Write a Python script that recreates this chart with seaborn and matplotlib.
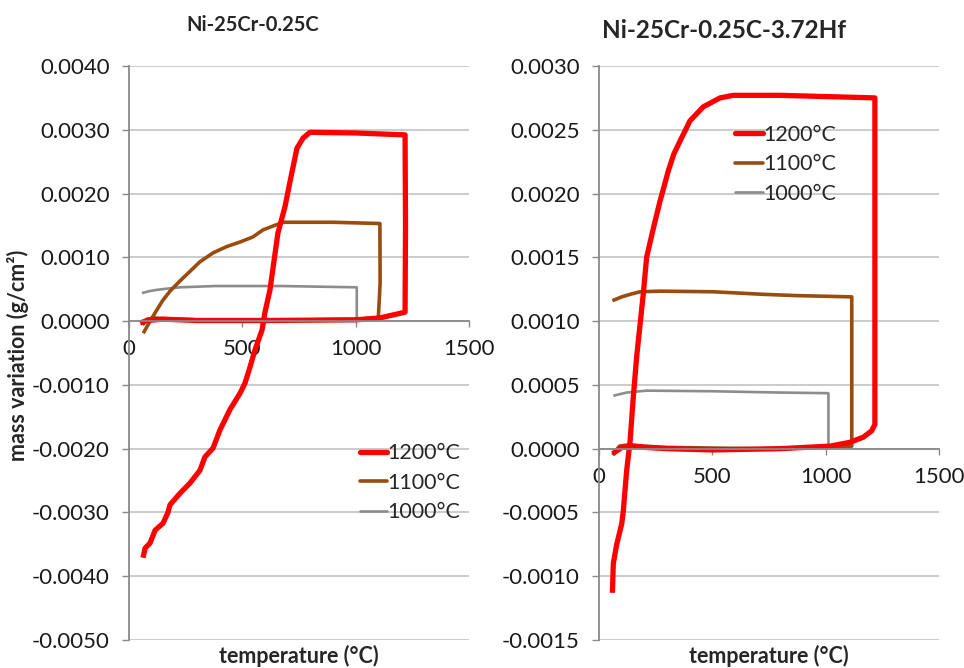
import numpy as np
import pandas as pd
import seaborn as sns
import matplotlib.pyplot as plt
from matplotlib.ticker import FormatStrFormatter
from matplotlib.lines import Line2D

# --- data (temperature in °C, mass variation in g/cm2) ---
# Ni-25Cr-0.25C
t_l1200 = [62, 71, 93, 115, 150, 172, 181, 225, 269, 313, 335, 371, 401, 445, 490, 512, 534, 556, 587,
           600, 622, 657, 688, 710, 741, 768, 798, 1000, 1218, 1220, 1218, 1107, 1000, 600, 300, 150, 80, 49]
m_l1200 = [-3.71, -3.56, -3.48, -3.28, -3.17, -3.00, -2.88, -2.70, -2.54, -2.34, -2.13, -1.99, -1.71, -1.39,
           -1.13, -0.97, -0.72, -0.45, -0.14, 0.14, 0.49, 1.38, 1.79, 2.18, 2.71, 2.87, 2.96, 2.95, 2.92,
           1.50, 0.14, 0.05, 0.02, 0.01, 0.01, 0.03, 0.01, -0.03]
t_l1100 = [63, 90, 122, 150, 181, 225, 269, 313, 371, 432, 490, 547, 591, 635, 679, 900, 1107, 1108, 1100,
           1000, 600, 300, 150, 110, 80, 60]
m_l1100 = [-0.19, -0.02, 0.17, 0.33, 0.47, 0.63, 0.78, 0.93, 1.07, 1.17, 1.24, 1.32, 1.43, 1.49, 1.55, 1.55,
           1.53, 0.60, 0.05, 0.03, 0.01, 0.02, 0.04, 0.05, 0.03, -0.06]
t_l1000 = [57, 90, 123, 170, 225, 381, 675, 1005, 1005, 800, 400, 200, 120, 80, 57]
m_l1000 = [0.44, 0.47, 0.49, 0.51, 0.53, 0.55, 0.55, 0.53, 0.02, 0.01, 0.01, 0.02, 0.04, 0.03, -0.03]

# Ni-25Cr-0.25C-3.72Hf
t_r1200 = [59, 63, 78, 100, 107, 122, 137, 151, 166, 195, 210, 240, 269, 306, 330, 357, 401, 460, 534, 592,
           798, 1217, 1217, 1203, 1166, 1107, 1019, 800, 500, 300, 200, 150, 100, 60]
m_r1200 = [-1.13, -0.90, -0.75, -0.59, -0.49, -0.17, 0.06, 0.40, 0.72, 1.21, 1.50, 1.73, 1.94, 2.18, 2.31,
           2.41, 2.57, 2.68, 2.75, 2.77, 2.77, 2.75, 0.19, 0.14, 0.09, 0.05, 0.02, 0.0, -0.01, 0.0,
           0.01, 0.02, 0.01, -0.04]
t_r1100 = [59, 100, 137, 181, 269, 504, 725, 872, 1115, 1115, 1000, 700, 300, 200, 130, 90, 60]
m_r1100 = [1.16, 1.19, 1.21, 1.23, 1.235, 1.23, 1.21, 1.20, 1.19, 0.02, 0.01, 0.0, 0.01, 0.02, 0.03, 0.02,
           -0.05]
t_r1000 = [63, 122, 210, 504, 798, 1012, 1012, 800, 400, 200, 150, 110, 80, 60]
m_r1000 = [0.415, 0.44, 0.455, 0.45, 0.44, 0.435, 0.0, 0.0, 0.0, 0.01, 0.02, 0.02, 0.0, -0.04]

labels = ['1200°C', '1100°C', '1000°C']
colors = ['#ff0000', '#9a4b0e', '#8c8c8c']
widths = [3.8, 2.6, 1.9]

sns.set_style('white')
plt.rcParams['font.family'] = ['Lato', 'DejaVu Sans']
plt.rcParams['axes.unicode_minus'] = False

fig = plt.figure(figsize=(9.64, 6.68), dpi=100)
ax1 = fig.add_axes([0.1338, 0.0419, 0.3527, 0.8593])
ax2 = fig.add_axes([0.6214, 0.0419, 0.3527, 0.8593])

panels = [
    (ax1, [(t_l1000, m_l1000), (t_l1100, m_l1100), (t_l1200, m_l1200)], (-0.005, 0.004), 0.001,
     (0.678, 0.343)),
    (ax2, [(t_r1000, m_r1000), (t_r1100, m_r1100), (t_r1200, m_r1200)], (-0.0015, 0.003), 0.0005,
     (0.40, 0.898)),
]

for ax, series, ylim, step, legpos in panels:
    for (t, m), c, w in zip(series, colors[::-1], widths[::-1]):
        df = pd.DataFrame({'T': t, 'm': np.array(m) / 1000})
        sns.lineplot(data=df, x='T', y='m', sort=False, estimator=None, color=c, linewidth=w,
                     ax=ax, solid_capstyle='butt')
    ax.set_xlim(0, 1500)
    ax.set_ylim(*ylim)
    ax.set_xticks([0, 500, 1000, 1500])
    ax.set_yticks(np.arange(ylim[0], ylim[1] + step / 2, step))
    ax.yaxis.set_major_formatter(FormatStrFormatter('%.4f'))
    ax.grid(axis='y', color='#bdbdbd', linewidth=1.1)
    ax.set_axisbelow(True)
    for s in ['top', 'right']:
        ax.spines[s].set_visible(False)
    ax.spines['bottom'].set_position(('data', 0))
    ax.spines['bottom'].set_color('#8a8a8a')
    ax.spines['left'].set_color('#8a8a8a')
    ax.spines['bottom'].set_linewidth(1.3)
    ax.spines['left'].set_linewidth(1.3)
    ax.tick_params(axis='y', length=5, width=1, color='#8a8a8a', labelsize=16, pad=9,
                   labelcolor='#1a1a1a', left=True)
    ax.tick_params(axis='x', length=4, width=1, color='#8a8a8a', labelsize=16, pad=9,
                   labelcolor='#1a1a1a', bottom=True)
    ax.set_xlabel('')
    ax.set_ylabel('')
    ax.text(0.5, -0.008, 'temperature (°C)', transform=ax.transAxes, ha='center', va='top',
            fontsize=15.5, fontweight='bold')
    handles = [Line2D([], [], color=c, linewidth=w) for c, w in zip(colors, widths)]
    ax.legend(handles, labels, loc='upper left', bbox_to_anchor=legpos, frameon=False,
              fontsize=15.5, handlelength=1.3, handletextpad=0.0, labelspacing=0.45, borderpad=0,
              borderaxespad=0)

fig.text(253 / 964, 1 - 25 / 668, 'Ni-25Cr-0.25C', ha='center', va='center', fontsize=14.5,
         fontweight='bold')
fig.text(724 / 964, 1 - 31 / 668, 'Ni-25Cr-0.25C-3.72Hf', ha='center', va='center', fontsize=17.5,
         fontweight='bold')
fig.text(18 / 964, 1 - 355 / 668, 'mass variation (g/cm²)', ha='center', va='center', rotation=90,
         fontsize=15.5, fontweight='bold')

fig.savefig('out.png', dpi=100)
